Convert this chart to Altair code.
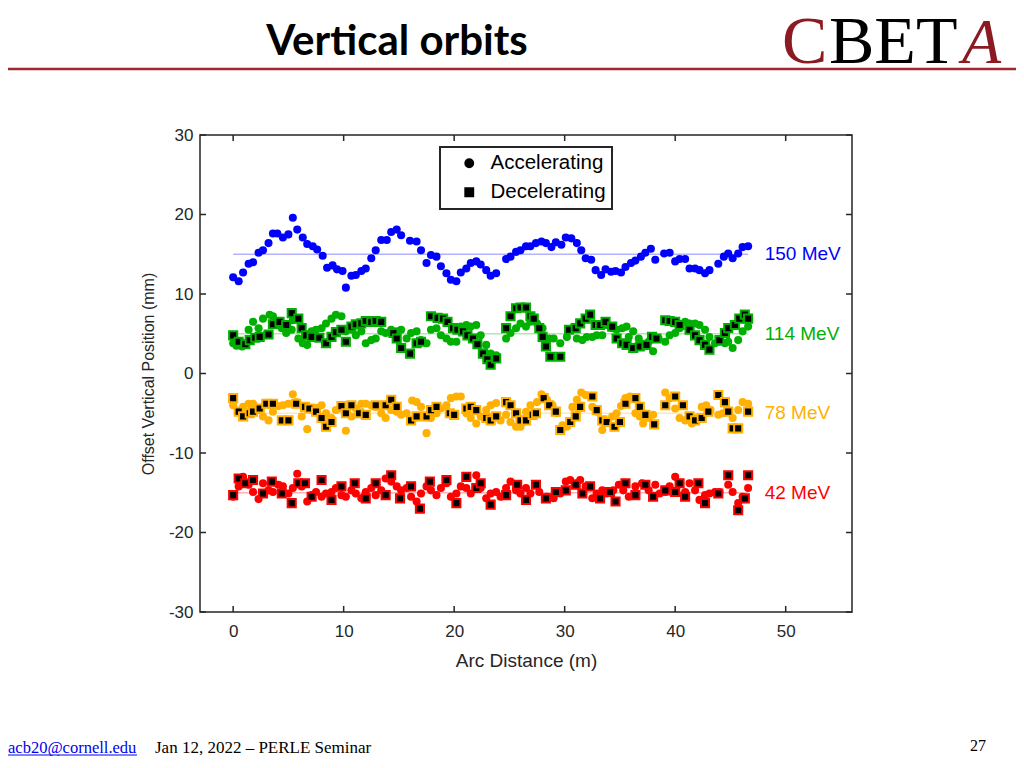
import altair as alt
import pandas as pd

# ---------------- data ----------------
x_150_acc = [0.0, 0.5, 0.9, 1.4, 1.8, 2.3, 2.7, 3.2, 3.6, 4.0, 4.5, 5.0, 5.4, 5.8, 6.3, 6.7, 7.2, 7.6, 8.1, 8.5,
             9.0, 9.4, 9.9, 10.2, 10.7, 11.1, 11.6, 12.0, 12.5, 12.9, 13.4, 13.9, 14.3, 14.8, 15.2, 16.0, 16.6, 17.0,
             17.5, 17.9, 18.4, 18.8, 19.3, 19.7, 20.2, 20.6, 21.1, 21.5, 22.0, 22.4, 22.9, 23.3, 23.8, 24.7, 25.1,
             25.6, 26.0, 26.5, 26.9, 27.4, 27.9, 28.3, 28.8, 29.2, 29.7, 30.1, 30.6, 31.1, 31.5, 31.9, 32.4, 32.8,
             33.3, 33.7, 34.2, 34.6, 35.1, 35.5, 36.0, 36.4, 36.9, 37.3, 37.8, 38.2, 39.0, 39.5, 40.0, 40.4, 40.9,
             41.3, 41.8, 42.2, 42.7, 43.1, 43.9, 44.4, 44.8, 45.2, 45.7, 46.1, 46.6]
y_150_acc = [12.1, 11.6, 12.7, 13.8, 14.0, 15.2, 15.5, 16.4, 17.6, 17.6, 17.1, 17.5, 19.6, 18.1, 17.1, 16.3, 16.0,
             15.6, 14.8, 13.3, 13.6, 13.1, 12.9, 10.8, 12.3, 12.4, 12.9, 13.2, 14.5, 15.5, 16.8, 16.8, 17.8, 18.1,
             17.4, 16.7, 16.6, 15.5, 13.9, 14.9, 14.7, 13.5, 12.6, 11.8, 11.6, 12.7, 13.2, 13.9, 14.1, 13.7, 13.0,
             12.3, 12.6, 14.4, 14.7, 15.3, 15.5, 16.0, 16.0, 16.4, 16.6, 16.4, 15.9, 16.5, 16.2, 17.1, 17.0, 16.4,
             15.5, 14.5, 14.3, 13.0, 12.4, 13.1, 12.8, 12.9, 12.7, 13.4, 13.9, 14.2, 14.7, 15.2, 15.7, 14.3, 15.1,
             15.2, 14.1, 14.4, 14.4, 13.2, 13.2, 13.0, 12.6, 13.0, 13.8, 14.7, 15.1, 14.5, 15.1, 15.9, 16.0]

x_114_acc = [0.0, 0.3, 0.8, 1.4, 1.8, 2.3, 2.7, 3.3, 3.6, 3.9, 4.4, 4.8, 5.3, 5.4, 5.9, 6.3, 6.7, 7.1, 7.5, 8.0,
             8.4, 8.9, 9.3, 9.8, 10.2, 10.7, 11.1, 11.6, 12.0, 12.5, 12.9, 13.4, 13.8, 14.3, 14.8, 15.2, 15.7, 16.1,
             16.6, 17.0, 17.5, 17.9, 18.4, 18.8, 19.3, 19.7, 20.2, 20.6, 21.1, 21.5, 22.0, 22.4, 22.9, 23.3, 23.8,
             24.7, 25.1, 25.6, 26.0, 26.5, 26.9, 27.5, 28.0, 28.6, 29.0, 29.6, 30.2, 30.7, 31.1, 31.6, 32.0, 32.5,
             32.9, 33.4, 33.8, 34.3, 34.7, 35.2, 35.6, 35.8, 36.2, 36.7, 37.1, 37.6, 38.0, 38.5, 39.1, 39.5, 40.0,
             40.4, 40.9, 41.3, 41.8, 42.2, 42.7, 43.1, 43.6, 44.0, 44.5, 44.8, 45.2, 45.7, 46.1, 46.6]
y_114_acc = [3.8, 3.5, 3.4, 5.5, 6.5, 5.7, 6.9, 7.4, 7.2, 6.3, 5.7, 5.1, 5.5, 6.7, 4.4, 3.8, 3.6, 5.3, 5.5, 5.7,
             6.3, 6.9, 7.4, 7.2, 5.3, 5.5, 4.8, 5.3, 3.8, 4.2, 4.4, 5.3, 5.1, 5.5, 5.3, 5.5, 4.4, 5.1, 5.3, 4.2,
             3.8, 5.5, 5.7, 4.8, 4.4, 4.0, 4.0, 5.9, 6.1, 5.9, 6.1, 4.8, 3.6, 2.5, 2.3, 4.4, 5.1, 5.7, 6.3, 5.9,
             6.5, 6.3, 5.7, 4.4, 4.4, 3.8, 4.6, 5.7, 4.4, 4.2, 4.6, 4.6, 4.8, 4.8, 6.1, 5.7, 5.5, 5.7, 5.9, 4.6,
             5.3, 4.4, 3.6, 4.0, 2.8, 4.4, 4.0, 4.8, 5.1, 5.7, 6.5, 6.3, 6.3, 6.1, 5.5, 4.6, 3.8, 4.0, 3.8, 4.0,
             3.2, 4.2, 5.3, 5.9]
x_114_dec = [0.0, 0.5, 1.1, 1.5, 2.0, 2.4, 3.2, 3.6, 4.2, 4.8, 5.3, 5.9, 6.2, 6.6, 7.1, 7.8, 8.4, 8.9, 9.3, 9.8,
             10.2, 10.7, 11.1, 11.6, 12.0, 12.5, 12.9, 13.4, 14.5, 14.8, 15.2, 16.0, 16.6, 17.0, 17.9, 18.5, 19.0,
             19.4, 19.9, 20.3, 20.8, 21.2, 21.7, 22.1, 22.6, 23.0, 23.3, 23.8, 24.7, 25.1, 25.6, 26.0, 26.5, 26.9,
             27.2, 27.7, 28.0, 28.3, 28.7, 29.6, 30.4, 31.0, 31.4, 31.9, 32.3, 32.8, 33.2, 33.7, 34.3, 34.7, 35.2,
             35.6, 36.2, 36.8, 37.4, 37.9, 38.3, 39.1, 39.5, 40.0, 40.4, 41.3, 41.8, 42.2, 42.7, 43.1, 44.0, 44.5,
             44.8, 45.4, 45.8, 46.3, 46.6]
y_114_dec = [4.8, 4.0, 3.7, 4.2, 4.5, 4.6, 4.9, 6.2, 6.5, 6.1, 7.6, 6.9, 5.7, 4.8, 4.6, 4.5, 3.8, 4.6, 5.2, 5.5,
             4.0, 5.9, 6.2, 6.3, 6.6, 6.5, 6.6, 6.5, 5.1, 4.4, 3.2, 2.5, 3.8, 4.0, 7.2, 7.0, 6.9, 6.5, 5.7, 5.5,
             5.3, 4.8, 4.4, 3.7, 2.5, 1.8, 1.1, 1.9, 5.7, 7.2, 8.2, 8.3, 8.3, 7.2, 6.9, 5.7, 4.6, 3.4, 2.1, 2.1,
             5.5, 5.7, 6.3, 6.9, 7.4, 6.1, 6.1, 6.5, 5.9, 4.4, 3.8, 3.6, 3.2, 3.4, 3.6, 4.6, 4.4, 6.7, 6.6, 6.5,
             6.1, 5.5, 4.8, 4.2, 3.6, 3.0, 4.2, 5.1, 5.7, 6.1, 6.9, 7.4, 6.9]

x_78_acc = [0.0, 0.5, 0.9, 1.4, 1.8, 2.3, 2.7, 3.2, 3.6, 4.1, 4.5, 5.0, 5.4, 5.7, 6.2, 6.7, 7.1, 7.5, 8.0, 8.4,
            8.9, 9.3, 9.8, 10.2, 10.7, 11.1, 11.6, 12.0, 12.5, 12.9, 13.4, 13.8, 14.3, 14.8, 15.2, 15.7, 16.2, 16.6,
            17.0, 17.5, 17.9, 18.4, 18.8, 19.3, 19.7, 20.2, 20.6, 21.1, 21.5, 22.0, 22.4, 22.9, 23.3, 23.8, 24.2,
            24.7, 25.1, 25.6, 26.0, 26.5, 26.9, 27.5, 27.9, 28.4, 28.9, 29.3, 29.8, 30.2, 30.7, 31.1, 31.5, 31.9,
            32.5, 32.9, 33.4, 33.7, 34.3, 34.7, 35.1, 35.5, 35.9, 36.4, 36.8, 37.1, 37.6, 38.0, 39.1, 39.5, 40.0,
            40.4, 40.9, 41.5, 41.9, 42.4, 42.8, 43.2, 43.9, 44.3, 44.8, 45.2, 45.7, 46.1, 46.6]
y_78_acc = [-4.0, -4.8, -4.2, -3.8, -3.8, -4.6, -5.4, -5.9, -4.8, -4.1, -4.0, -3.8, -2.6, -3.6, -5.4, -7.0, -4.6,
            -4.3, -4.0, -5.0, -5.6, -4.6, -4.4, -7.2, -5.4, -4.4, -3.8, -3.8, -4.0, -4.2, -5.0, -5.6, -4.6, -4.8,
            -5.2, -5.0, -3.4, -3.6, -4.2, -7.5, -5.6, -5.0, -4.4, -4.0, -3.1, -2.9, -2.9, -5.0, -5.6, -6.3, -5.4,
            -4.6, -4.0, -3.7, -5.9, -5.2, -6.1, -6.7, -6.7, -4.8, -4.0, -3.6, -2.6, -3.3, -4.0, -5.0, -6.5, -6.7,
            -4.2, -3.3, -2.4, -2.7, -4.2, -4.8, -7.1, -5.9, -5.4, -5.0, -4.1, -3.1, -2.9, -5.0, -5.4, -6.3, -5.6,
            -5.2, -2.4, -3.1, -4.4, -5.6, -5.9, -6.3, -5.6, -4.2, -4.0, -4.6, -5.2, -5.0, -4.8, -5.6, -4.6, -3.6, -3.8]
x_78_dec = [0.0, 0.5, 0.9, 1.5, 1.8, 2.4, 3.0, 3.6, 4.4, 5.0, 5.7, 6.5, 6.9, 7.5, 8.0, 8.4, 8.9, 9.8, 10.2, 10.7,
            11.4, 12.0, 12.9, 13.8, 14.3, 14.8, 16.1, 16.6, 17.5, 17.9, 18.4, 19.6, 20.0, 21.1, 21.5, 22.0, 22.9,
            23.3, 23.8, 24.7, 25.1, 25.6, 26.0, 26.5, 27.1, 27.4, 28.1, 28.6, 29.2, 29.6, 30.5, 31.0, 31.4, 32.5,
            32.9, 33.4, 33.8, 34.5, 35.0, 35.5, 36.4, 36.8, 37.3, 38.1, 39.1, 40.0, 40.7, 41.3, 41.8, 42.4, 43.0,
            43.9, 44.5, 44.8, 45.2, 45.7, 46.6]
y_78_dec = [-3.1, -4.8, -5.4, -5.0, -4.8, -4.4, -3.8, -3.8, -5.9, -5.9, -3.8, -4.2, -4.4, -4.8, -5.6, -6.7, -6.1,
            -4.1, -5.0, -4.0, -5.0, -5.2, -4.0, -4.0, -3.3, -4.2, -5.9, -5.4, -5.4, -4.6, -4.2, -5.0, -5.2, -4.4,
            -4.2, -4.6, -5.6, -5.9, -5.4, -3.6, -4.0, -5.0, -5.9, -5.9, -5.2, -5.0, -3.1, -4.0, -4.8, -7.1, -6.1,
            -5.4, -4.2, -2.9, -4.6, -5.9, -6.1, -6.7, -6.1, -3.8, -3.1, -4.2, -5.2, -6.4, -4.0, -2.9, -4.0, -5.4,
            -5.9, -5.6, -4.8, -2.7, -3.6, -4.8, -6.9, -6.9, -4.8]

x_42_acc = [0.0, 0.5, 0.9, 1.4, 1.8, 2.3, 2.7, 3.2, 3.6, 4.1, 4.5, 5.0, 5.4, 5.8, 6.2, 6.7, 7.1, 7.5, 8.0, 8.4,
            8.9, 9.3, 9.8, 10.2, 10.7, 11.1, 11.6, 12.0, 12.5, 12.9, 13.4, 13.8, 14.3, 14.8, 15.2, 15.7, 16.1, 16.6,
            17.0, 17.5, 17.9, 18.4, 18.8, 19.3, 19.7, 20.2, 20.6, 21.1, 21.5, 22.0, 22.4, 22.9, 23.3, 23.8, 24.2,
            24.7, 25.1, 25.6, 26.0, 26.5, 26.9, 27.7, 28.4, 29.0, 29.6, 30.1, 30.5, 31.0, 31.4, 31.9, 32.5, 32.9,
            33.4, 33.8, 34.4, 34.9, 35.3, 35.8, 36.4, 37.0, 37.6, 38.2, 38.6, 39.1, 39.5, 40.0, 40.4, 40.9, 41.3,
            41.8, 42.2, 42.7, 43.1, 43.6, 44.0, 44.8, 45.2, 45.7, 46.1, 46.6]
y_42_acc = [-15.5, -14.2, -13.0, -14.0, -14.9, -15.8, -13.8, -14.7, -14.9, -14.0, -14.2, -15.1, -14.4, -12.6,
            -14.2, -16.1, -15.3, -14.9, -15.5, -15.1, -14.9, -14.4, -15.3, -15.5, -14.7, -15.1, -15.7, -14.9, -14.4,
            -15.3, -14.7, -13.2, -13.6, -14.2, -14.7, -14.4, -15.5, -16.1, -15.1, -14.2, -14.7, -15.3, -14.4, -13.8,
            -15.5, -15.1, -14.2, -14.4, -15.1, -12.8, -14.4, -15.7, -15.1, -14.9, -15.5, -14.4, -13.6, -14.7, -15.1,
            -14.4, -15.1, -14.9, -15.5, -15.7, -15.1, -13.6, -13.4, -13.8, -13.4, -14.2, -15.7, -15.1, -14.7, -15.1,
            -14.7, -14.0, -14.7, -15.5, -14.2, -13.8, -14.7, -14.0, -15.1, -14.9, -14.2, -13.0, -13.8, -14.9, -13.8,
            -14.7, -15.9, -15.3, -15.1, -14.9, -14.9, -14.0, -14.9, -16.3, -15.5, -14.4]
x_42_dec = [0.0, 0.5, 1.1, 1.8, 2.7, 3.5, 4.4, 5.3, 5.9, 6.5, 7.1, 8.0, 8.9, 9.8, 11.0, 12.0, 12.9, 13.8, 14.3,
            15.1, 16.1, 16.9, 17.8, 19.3, 20.2, 21.1, 22.0, 22.4, 23.3, 24.7, 25.7, 26.5, 27.4, 28.3, 29.2, 30.1,
            31.0, 31.6, 32.3, 33.2, 34.1, 34.6, 35.5, 36.4, 37.3, 38.0, 39.1, 40.0, 40.4, 40.9, 42.1, 42.7, 43.9,
            44.8, 45.7, 46.3, 46.6]
y_42_dec = [-15.3, -13.2, -13.8, -13.4, -15.1, -13.6, -15.1, -16.3, -13.8, -13.8, -15.5, -13.4, -15.9, -14.2,
            -13.8, -15.7, -13.8, -15.3, -12.8, -15.7, -14.2, -17.0, -13.6, -13.4, -16.3, -13.0, -14.4, -13.8, -16.5,
            -15.3, -14.0, -15.9, -14.0, -15.7, -14.9, -14.7, -14.0, -15.1, -14.2, -15.7, -14.9, -16.1, -13.8, -15.3,
            -14.0, -15.5, -14.7, -14.9, -13.8, -15.5, -13.8, -16.3, -15.1, -12.8, -17.2, -15.7, -12.8]

energies = ["150 MeV", "114 MeV", "78 MeV", "42 MeV"]
series_colors = ["#0000FF", "#00B000", "#FFB000", "#FF0000"]
ref_levels = [15, 5, -5, -15]
ref_x_start = 0.0
ref_x_end = 46.6
label_x = 48.1
x_ticks = [0, 10, 20, 30, 40, 50]
y_ticks = [-30, -20, -10, 0, 10, 20, 30]
marker_types = ["Accelerating", "Decelerating"]

# ---------------- tables ----------------
def frame(xs, ys, energy, kind):
    return pd.DataFrame({"x": xs, "y": ys, "energy": energy, "type": kind})

acc = pd.concat([
    frame(x_150_acc, y_150_acc, "150 MeV", "Accelerating"),
    frame(x_114_acc, y_114_acc, "114 MeV", "Accelerating"),
    frame(x_78_acc, y_78_acc, "78 MeV", "Accelerating"),
    frame(x_42_acc, y_42_acc, "42 MeV", "Accelerating"),
], ignore_index=True)
dec = pd.concat([
    frame(x_114_dec, y_114_dec, "114 MeV", "Decelerating"),
    frame(x_78_dec, y_78_dec, "78 MeV", "Decelerating"),
    frame(x_42_dec, y_42_dec, "42 MeV", "Decelerating"),
], ignore_index=True)
refs = pd.DataFrame({"energy": energies, "y": ref_levels,
                     "x0": [ref_x_start] * 4, "x1": [ref_x_end] * 4})
labels = pd.DataFrame({"energy": energies, "y": ref_levels, "x": [label_x] * 4})
xt = pd.DataFrame({"v": x_ticks})
yt = pd.DataFrame({"v": y_ticks})

W, H = 652, 477
AX = "#262626"
FONT = "Liberation Sans"

xs = alt.Scale(domain=[-3, 56], nice=False, zero=False)
ys = alt.Scale(domain=[-30, 30], nice=False)
cs = alt.Scale(domain=energies, range=series_colors)
ss = alt.Scale(domain=marker_types, range=["circle", "square"])

x_axis = alt.Axis(values=x_ticks, ticks=False, domain=False, grid=False, labelFontSize=17,
                  labelPadding=11, labelColor=AX, labelFont=FONT, title="Arc Distance (m)",
                  titleFontSize=19, titleFontWeight="normal", titleFont=FONT, titleColor=AX,
                  titlePadding=12)
y_axis = alt.Axis(values=y_ticks, ticks=False, domain=False, grid=False, labelFontSize=17,
                  labelPadding=7, labelColor=AX, labelFont=FONT, labelExpr="'' + datum.value",
                  title="Offset Vertical Position (mm)", titleFontSize=16, titleFontWeight="normal",
                  titleFont=FONT, titleColor=AX, titlePadding=12)

ref_layer = alt.Chart(refs).mark_rule(strokeWidth=1.5, opacity=0.3).encode(
    x=alt.X("x0:Q", scale=xs, axis=x_axis),
    x2="x1:Q",
    y=alt.Y("y:Q", scale=ys, axis=y_axis),
    color=alt.Color("energy:N", scale=cs, legend=None),
)

legend = alt.Legend(title=None, orient="none", legendX=240, legendY=12, strokeColor=AX,
                    fillColor="white", padding=6, labelFontSize=20.5, labelFont=FONT,
                    labelColor="black", symbolSize=70, symbolFillColor="black",
                    symbolStrokeColor="black", symbolOffset=13, labelOffset=11, rowPadding=8)

acc_layer = alt.Chart(acc).mark_point(filled=True, size=65, opacity=1).encode(
    x=alt.X("x:Q", scale=xs),
    y=alt.Y("y:Q", scale=ys),
    color=alt.Color("energy:N", scale=cs, legend=None),
    shape=alt.Shape("type:N", scale=ss, legend=legend),
)

dec_layer = alt.Chart(dec).mark_point(filled=True, fill="black", size=66, strokeWidth=2,
                                      opacity=1).encode(
    x=alt.X("x:Q", scale=xs),
    y=alt.Y("y:Q", scale=ys),
    stroke=alt.Stroke("energy:N", scale=cs, legend=None),
    shape=alt.Shape("type:N", scale=ss, legend=legend),
)

label_layer = alt.Chart(labels).mark_text(align="left", baseline="middle", fontSize=19,
                                          font=FONT).encode(
    x=alt.X("x:Q", scale=xs),
    y=alt.Y("y:Q", scale=ys),
    text="energy:N",
    color=alt.Color("energy:N", scale=cs, legend=None),
)

tick_style = dict(color=AX, strokeWidth=1.5)
xb = alt.Chart(xt).mark_rule(**tick_style).encode(x=alt.X("v:Q", scale=xs), y=alt.value(H), y2=alt.value(H - 6))
xtop = alt.Chart(xt).mark_rule(**tick_style).encode(x=alt.X("v:Q", scale=xs), y=alt.value(0), y2=alt.value(6))
yl = alt.Chart(yt).mark_rule(**tick_style).encode(y=alt.Y("v:Q", scale=ys), x=alt.value(0), x2=alt.value(6))
yr = alt.Chart(yt).mark_rule(**tick_style).encode(y=alt.Y("v:Q", scale=ys), x=alt.value(W), x2=alt.value(W - 6))

# ---------------- slide decorations ----------------
def slide_text(txt, x, y, size, font, color="black", weight="normal", align="left", style="normal"):
    return alt.Chart(pd.DataFrame({"t": [txt]})).mark_text(
        align=align, baseline="alphabetic", fontSize=size, font=font, color=color,
        fontWeight=weight, fontStyle=style).encode(text="t:N", x=alt.value(x), y=alt.value(y))

title = slide_text("Vertical orbits", 197, -80, 42, "Lato", weight="bold", align="center")
logo_c = slide_text("C", 582, -72, 68, "Liberation Serif", color="#8B1A22")
logo_bet = slide_text("BET", 629, -72, 68, "Liberation Serif", color="black")
logo_a = slide_text("A", 762, -72, 64, "Liberation Serif", color="#8B1A22", style="italic")
red_line = alt.Chart(pd.DataFrame({"t": [0]})).mark_rule(color="#A3262C", strokeWidth=2.5).encode(
    x=alt.value(-192), x2=alt.value(W + 164), y=alt.value(-66))
email = slide_text("acb20@cornell.edu", -192, 618, 16.5, "Liberation Serif", color="#0000EE")
email_ul = alt.Chart(pd.DataFrame({"t": [0]})).mark_rule(color="#0000EE", strokeWidth=1).encode(
    x=alt.value(-192), x2=alt.value(-63), y=alt.value(620))
date = slide_text("Jan 12, 2022 \u2013 PERLE Seminar", -45, 618, 17, "Liberation Serif")
page = slide_text("27", 770, 616, 16, "Liberation Serif")

chart = alt.layer(
    ref_layer, acc_layer, dec_layer, label_layer, xb, xtop, yl, yr,
    title, logo_c, logo_bet, logo_a, red_line, email, email_ul, date, page,
).resolve_scale(color="shared").properties(
    width=W, height=H,
    padding={"left": 192, "top": 127, "right": 164, "bottom": 144},
    autosize=alt.AutoSizeParams(type="none"),
    background="white",
).configure_view(stroke=AX, strokeWidth=1.5).configure_legend(strokeWidth=2)

chart.save("out.html", embed_options={"renderer": "svg", "actions": False})
